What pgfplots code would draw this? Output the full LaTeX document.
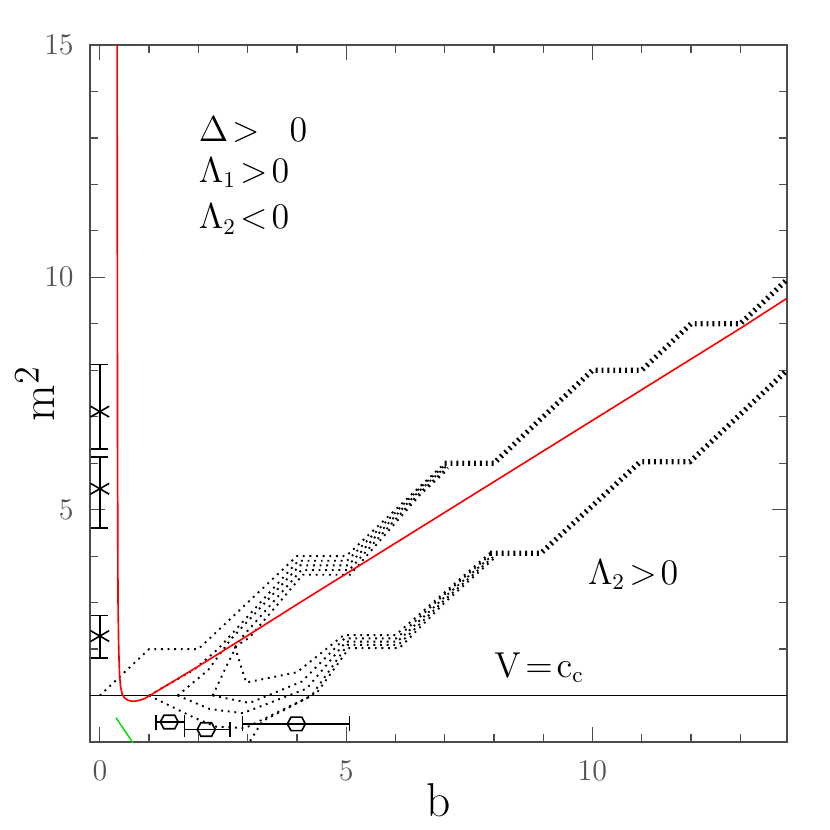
\documentclass[border=0pt]{standalone}
\usepackage{pgfplots}
\pgfplotsset{compat=1.18}
\usetikzlibrary{plotmarks}
\definecolor{grn}{RGB}{0,225,0}
\pgfdeclareplotmark{hexa}{%
  \pgfpathmoveto{\pgfqpoint{-\pgfplotmarksize}{0pt}}%
  \pgfpathlineto{\pgfqpoint{-0.6\pgfplotmarksize}{0.75\pgfplotmarksize}}%
  \pgfpathlineto{\pgfqpoint{0.6\pgfplotmarksize}{0.75\pgfplotmarksize}}%
  \pgfpathlineto{\pgfqpoint{\pgfplotmarksize}{0pt}}%
  \pgfpathlineto{\pgfqpoint{0.6\pgfplotmarksize}{-0.75\pgfplotmarksize}}%
  \pgfpathlineto{\pgfqpoint{-0.6\pgfplotmarksize}{-0.75\pgfplotmarksize}}%
  \pgfpathclose\pgfusepathqstroke}
\tikzset{dl/.style={black, line width=0.75pt, dash pattern=on 0.75pt off 1.9pt},
  dthick/.style={black, line width=2.1pt, dash pattern=on 0.75pt off 1.6pt},
  lab/.style={anchor=west, inner sep=0pt, font=\fontsize{13.5}{15}\selectfont}}
\begin{document}
\begin{tikzpicture}
\begin{axis}[
  scale only axis, width=278.8pt, height=278.8pt,
  xmin=-0.2, xmax=13.95, ymin=0, ymax=15,
  xtick={0,5,10}, ytick={5,10,15},
  minor xtick={1,2,3,4,6,7,8,9,11,12,13},
  minor ytick={1,2,3,4,6,7,8,9,11,12,13,14},
  tick align=inside, major tick length=6pt, minor tick length=3.2pt,
  axis line style={gray!60!black, line width=0.5pt},
  every tick/.style={gray!60!black, line width=0.5pt},
  ticklabel style={font=\fontsize{13}{13}\selectfont, text=gray!65!black},
  xticklabel style={yshift=-4pt},
  yticklabel style={xshift=-3pt},
  xlabel={b}, ylabel={m$^2$},
  label style={font=\fontsize{19}{22}\selectfont},
  xlabel style={at={(axis description cs:0.5,-0.083)}, anchor=center},
  ylabel style={at={(axis description cs:-0.079,0.5)}, anchor=center},
  clip=true,
]
% upper band: separate lines up to b=7, then one line
\addplot[dl] coordinates {(0,1)(1,2)(2,2)(4,4)(5,4)(7,6)};
\addplot[dl] coordinates {(1,1)(1.9,1.55)(2.4,2.0)(4.03,3.9)(5.02,3.9)(6.5,5.47)(7.02,5.97)};
\addplot[dl] coordinates {(1.58,1)(2.2,1.55)(2.65,2.2)(4.06,3.8)(5.04,3.8)(6.5,5.42)(7.04,5.94)};
\addplot[dl] coordinates {(2.29,1)(2.6,1.7)(2.84,2.2)(4.09,3.7)(5.06,3.7)(6.5,5.37)(7.06,5.91)};
\addplot[dl] coordinates {(2.74,2.05)(3.04,2.25)(4.12,3.6)(5.08,3.6)(6.5,5.32)(7.08,5.88)};
\addplot[dthick] coordinates {(7,6)(8,6)(10,8)(11,8)(12,9)(13,9)(13.95,9.95)};
% lower band: separate lines up to b=8, then one line
\addplot[dl] coordinates {(2.74,2.05)(2.97,1.28)(4.0,1.5)(4.95,2.3)(6.0,2.3)(7.92,4.07)};
\addplot[dl] coordinates {(2.29,1.0)(3.04,0.84)(4.1,1.3)(4.97,2.23)(6.02,2.23)(7.0,3.18)(7.94,4.04)};
\addplot[dl] coordinates {(1.58,1.0)(2.23,0.71)(2.9,0.62)(4.2,1.15)(5.0,2.16)(6.04,2.16)(7.0,3.12)(7.96,4.01)};
\addplot[dl] coordinates {(1.0,1.0)(1.92,0.52)(2.36,0.33)(2.95,0.3)(4.3,1.0)(5.03,2.09)(6.06,2.09)(7.0,3.06)(7.98,3.98)};
\addplot[dl] coordinates {(2.98,-0.1)(3.3,0.45)(4.4,1.05)(5.06,2.02)(6.08,2.02)(7.0,3.0)(8.0,3.95)};
\addplot[dthick] coordinates {(7.92,4.06)(8.95,4.06)(10.97,6.03)(11.98,6.03)(13.95,8.0)};
% V = c_c
\addplot[black, line width=0.6pt] coordinates {(-0.2,1)(13.95,1)};
% red curve
\addplot[red, line width=0.65pt] coordinates {
  (0.35,15)(0.355,10)(0.36,6)(0.365,4)(0.37,2.9)(0.38,2.2)(0.39,1.75)(0.40,1.45)
  (0.42,1.2)(0.45,1.04)(0.5,0.95)(0.57,0.9)(0.65,0.875)(0.72,0.88)(0.8,0.895)
  (0.9,0.93)(1.0,0.99)(1.2,1.12)(1.5,1.31)(2,1.63)(2.5,1.96)(3,2.29)(4,2.96)
  (5,3.62)(6,4.28)(7,4.94)(8,5.6)(9,6.26)(10,6.92)(11,7.58)(12,8.24)(13,8.9)(13.95,9.55)};
% green segment
\addplot[grn, line width=0.6pt] coordinates {(0.33,0.52)(0.66,0.0)(0.72,-0.09)};
% points at b=0
\addplot[black, only marks, mark=asterisk, mark size=4.3pt, mark options={line width=0.65pt},
  error bars/.cd, y dir=both, y explicit,
  error bar style={line width=0.6pt},
  error mark options={line width=0.6pt, mark size=3.4pt, rotate=90}]
  coordinates {
  (0,7.11) += (0,1.01) -= (0,0.80)
  (0,5.45) += (0,0.68) -= (0,0.84)
  (0,2.28) += (0,0.44) -= (0,0.47)};
% hexagon points
\addplot[black, only marks, mark=hexa, mark size=3.6pt, mark options={line width=0.65pt},
  error bars/.cd, x dir=both, x explicit,
  error bar style={line width=0.6pt},
  error mark options={line width=0.6pt, mark size=3pt, rotate=90}]
  coordinates {
  (1.41,0.43) += (0.31,0) -= (0.27,0)
  (2.16,0.27) += (0.48,0) -= (0.44,0)
  (3.99,0.39) += (1.08,0) -= (1.09,0)};
% labels
\node[lab] at (axis cs:2.0,13.17) {$\Delta\!>\;\;0$};
\node[lab] at (axis cs:2.0,12.25) {$\Lambda_1\!>\!0$};
\node[lab] at (axis cs:2.0,11.25) {$\Lambda_2\!<\!0$};
\node[lab] at (axis cs:9.9,3.6) {$\Lambda_2\!>\!0$};
\node[lab] at (axis cs:8.0,1.6) {$\mathrm{V}\!=\!\mathrm{c_c}$};
\end{axis}
\path ([shift={(-36pt,-35.2pt)}]current axis.south west) rectangle ([shift={(17.2pt,18pt)}]current axis.north east);
\end{tikzpicture}
\end{document}
